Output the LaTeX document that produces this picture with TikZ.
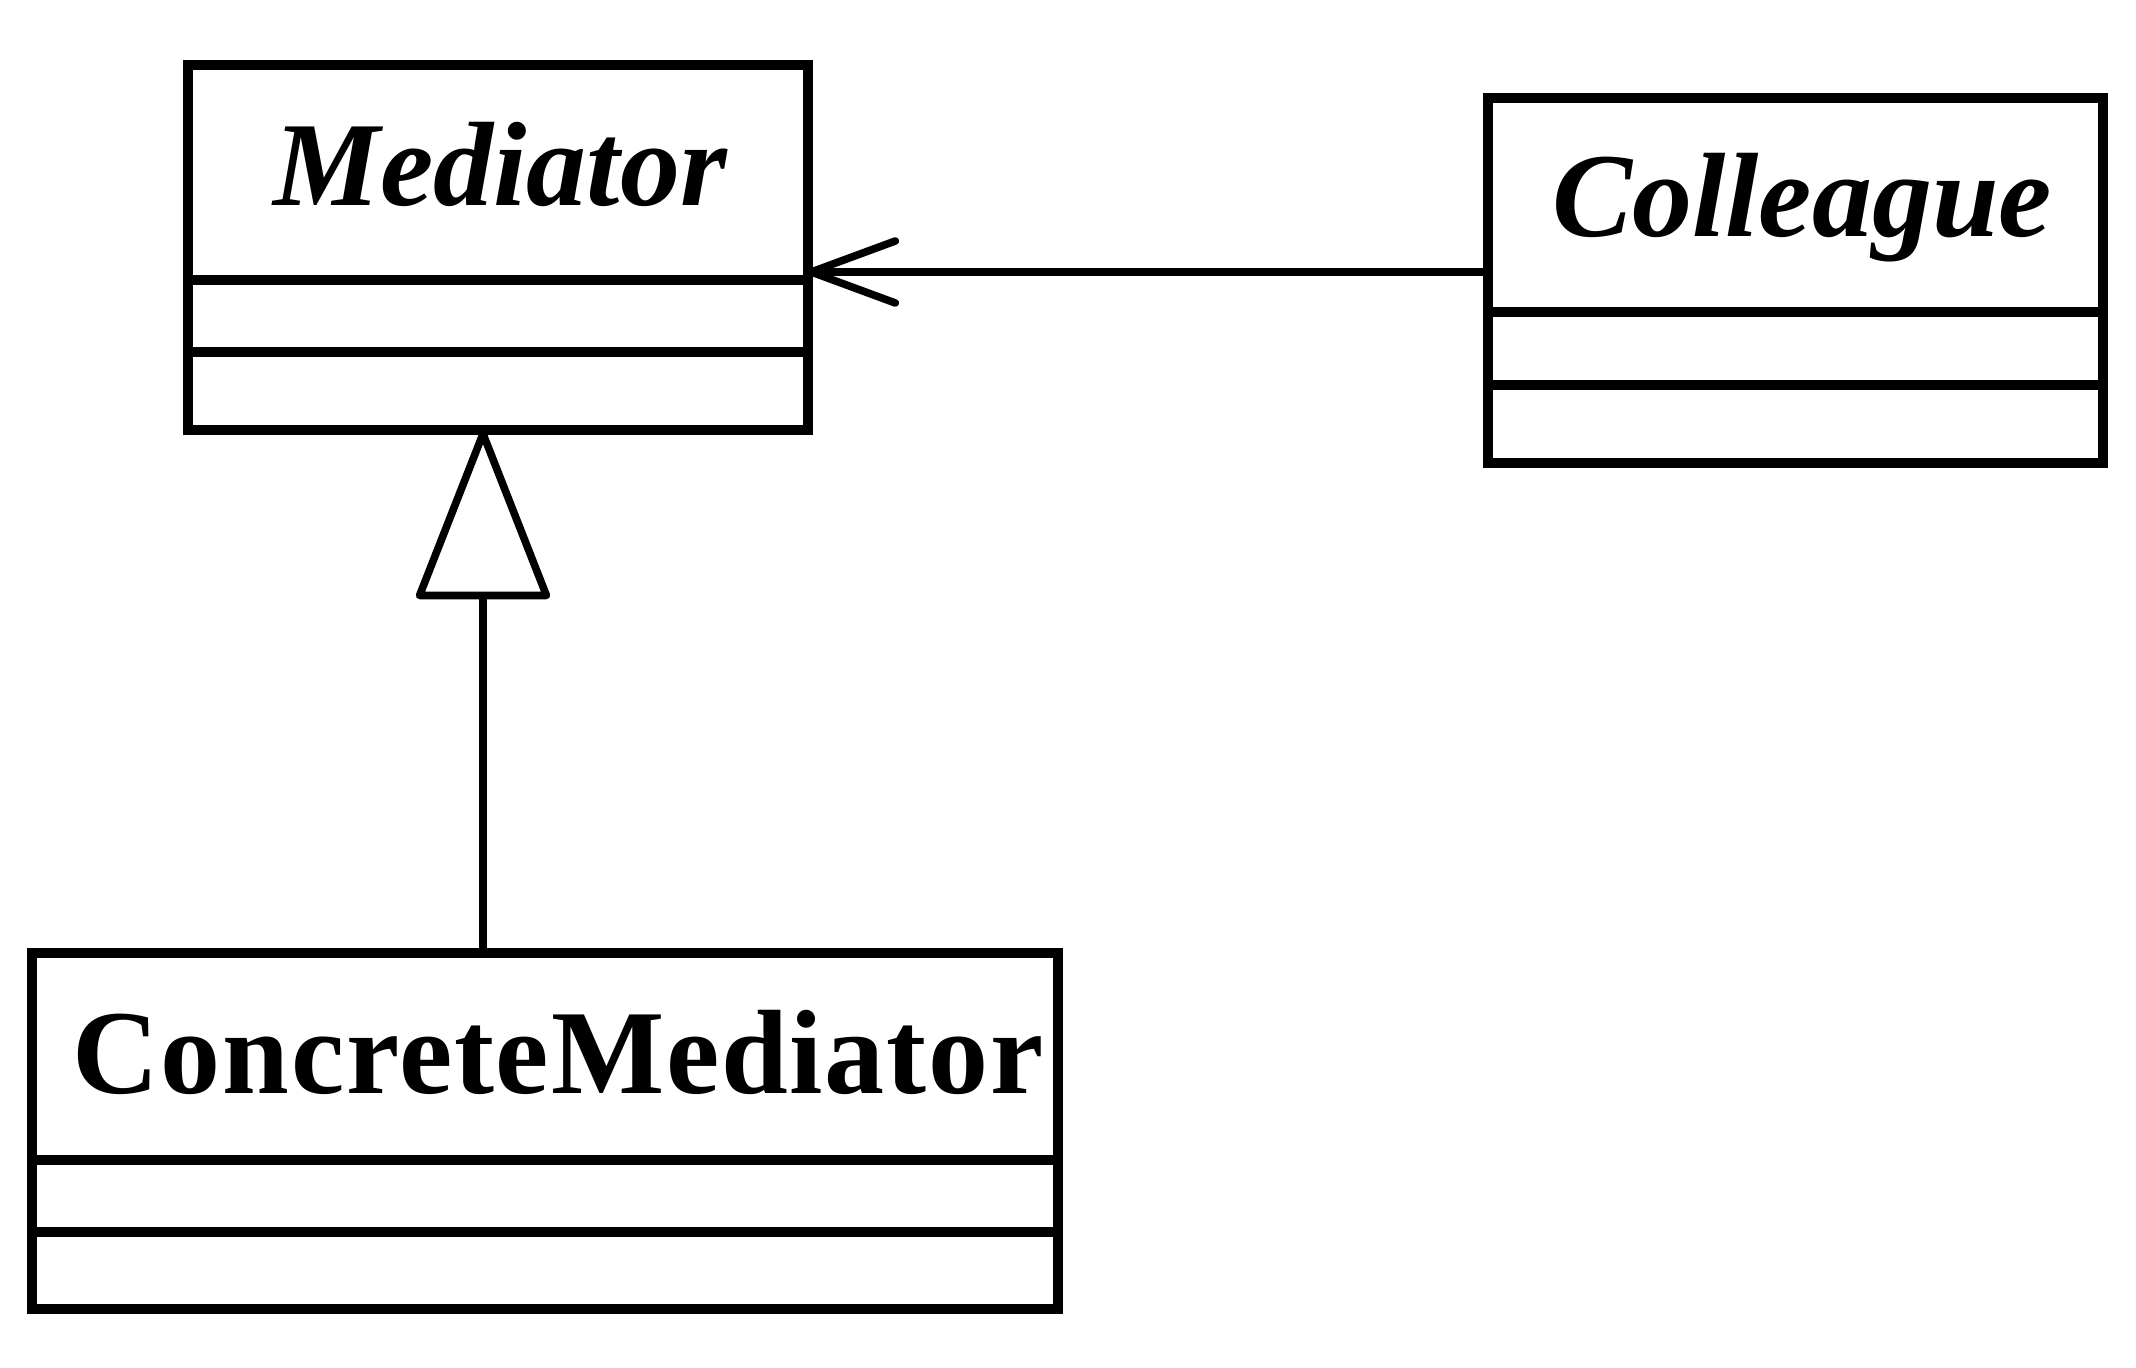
\documentclass[tikz,border=0pt]{standalone}
\usepackage{fontspec}
\setmainfont{Liberation Serif}
\usetikzlibrary{arrows.meta}
\tikzset{
  x=0.5pt, y=-0.5pt,
  classbox/.style={draw, line width=5pt, rectangle, inner sep=0pt, outer sep=0pt},
  divider/.style={line width=5pt},
  classname/.style={anchor=base, inner sep=0pt, font=\fontsize{60pt}{72pt}\selectfont\bfseries},
  assoc/.style={line width=3.8pt, -{Straight Barb[length=42pt, width=31pt, line join=round, line cap=round]}},
  inherit/.style={line width=3.8pt, -{Triangle[open, length=88pt, width=68pt, line join=round]}}
}
\begin{document}
\begin{tikzpicture}
\useasboundingbox[fill=white] (0,0) rectangle (2136,1368);
% Mediator
\node[classbox, minimum width=310pt, minimum height=182.5pt] (med) at (497.5,247.5) {};
\draw[divider] (med.west |- 0,280) -- (med.east |- 0,280);
\draw[divider] (med.west |- 0,352) -- (med.east |- 0,352);
\node[classname] (medname) at (500,206) {\itshape Mediator};
% Colleague
\node[classbox, minimum width=307.75pt, minimum height=182.5pt] (col) at (1795.25,281) {};
\draw[divider] (col.west |- 0,312.5) -- (col.east |- 0,312.5);
\draw[divider] (col.west |- 0,385) -- (col.east |- 0,385);
\node[classname] (colname) at (1802,237) {\itshape Colleague};
% ConcreteMediator
\node[classbox, minimum width=513.25pt, minimum height=178pt] (cm) at (544.75,1131) {};
\draw[divider] (cm.west |- 0,1160) -- (cm.east |- 0,1160);
\draw[divider] (cm.west |- 0,1232) -- (cm.east |- 0,1232);
\node[classname] (cmname) at (558,1093) {\addfontfeature{LetterSpace=1.5}ConcreteMediator};
% connectors
\coordinate (ay) at (0,272);
\coordinate (gx) at (483,0);
\draw[assoc] (col.west |- ay) -- (med.east |- ay);
\draw[inherit] (cm.north -| gx) -- (med.south -| gx);
\end{tikzpicture}
\end{document}
